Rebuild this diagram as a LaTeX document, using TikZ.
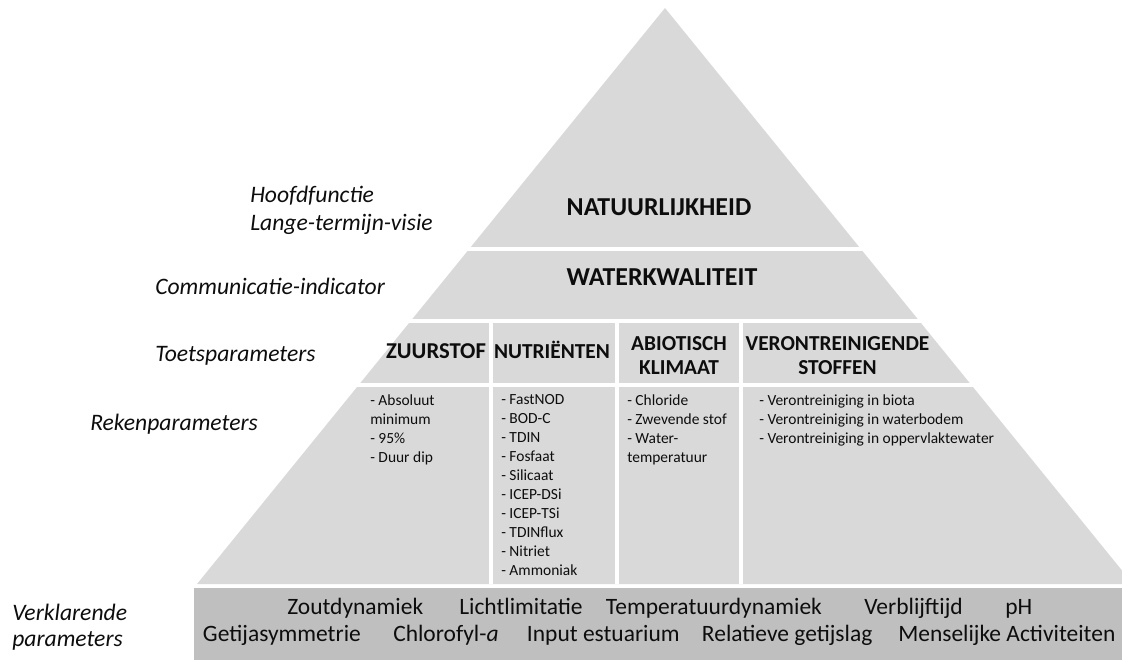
\documentclass[tikz,border=0pt]{standalone}
\usepackage{fontspec}
\setmainfont{Carlito}
\definecolor{tier}{HTML}{D9D9D9}
\definecolor{band}{HTML}{BFBFBF}
\definecolor{ink}{HTML}{0D0D0D}
\begin{document}
\begin{tikzpicture}[x=0.75pt,y=-0.75pt,
  every node/.style={inner sep=0pt, text=ink},
  title/.style={font=\fontsize{19.4}{23}\selectfont\bfseries},
  header/.style={font=\fontsize{16}{18.5}\selectfont\bfseries, align=center},
  list/.style={font=\fontsize{11.6}{14.25}\selectfont, align=left, anchor=north west},
  levellabel/.style={font=\fontsize{17.7}{21.2}\selectfont\itshape, align=left, anchor=west},
  factor/.style={font=\fontsize{17.6}{19.7}\selectfont, anchor=mid west},
  gap/.style={draw=white, line width=3pt}]
\useasboundingbox (0,0) rectangle (1122,660);
\clip (0,0) rectangle (1122,660);

% pyramid body
\fill[tier] (665,8) -- (1133,584) -- (197,584) -- cycle;
% white gaps between the tiers
\draw[gap] (380,249) -- (950,249);
\draw[gap] (300,321) -- (1030,321);
\draw[gap] (250,385) -- (1080,385);
% white gaps between the columns
\draw[gap] (491,321) -- (491,584);
\draw[gap] (617,321) -- (617,584);
\draw[gap] (741,321) -- (741,584);

% explanatory band below the pyramid
\fill[band] (194,588) rectangle (1122,660);

% tier titles
\node[title] (natuur) at (659,207) {NATUURLIJKHEID};
\node[title] (water) at (662,277.5) {WATERKWALITEIT};

% assessment parameters
\node[header, anchor=base, font=\fontsize{17}{18.5}\selectfont\bfseries] (zuurstof) at (436,358) {ZUURSTOF};
\node[header, anchor=base] (nutrient) at (552,358) {NUTRIËNTEN};
\node[header] (abiotisch) at (679,355.5) {ABIOTISCH\\KLIMAAT};
\node[header] (veront) at (837.5,355.5) {VERONTREINIGENDE\\STOFFEN};

% calculation parameters
\node[list] (zlist) at (370,394) {- Absoluut\\minimum\\- 95\%\\- Duur dip};
\node[list] (nlist) at (501,394) {- FastNOD\\- BOD-C\\- TDIN\\- Fosfaat\\- Silicaat\\- ICEP-DSi\\- ICEP-TSi\\- TDINflux\\- Nitriet\\- Ammoniak};
\node[list] (alist) at (627,394) {- Chloride\\- Zwevende stof\\- Water-\\temperatuur};
\node[list] (vlist) at (759,394) {- Verontreiniging in biota\\- Verontreiniging in waterbodem\\- Verontreiniging in oppervlaktewater};

% level labels on the left
\node[levellabel] (hoofd) at (250,210.5) {Hoofdfunctie\\Lange-termijn-visie};
\node[levellabel] (comm) at (155,286) {Communicatie-indicator};
\node[levellabel] (toets) at (155,356) {Toetsparameters};
\node[levellabel] (reken) at (90,424) {Rekenparameters};
\node[levellabel, font=\fontsize{17.7}{19.7}\selectfont\itshape] (verkl) at (12,627.5) {Verklarende\\parameters};

% explanatory parameters, first row
\node[factor] (zout) at (287,611.7) {Zoutdynamiek};
\node[factor] (licht) at (459,611.7) {Lichtlimitatie};
\node[factor] (temp) at (605.7,611.7) {Temperatuurdynamiek};
\node[factor] (verbl) at (864,611.7) {Verblijftijd};
\node[factor] (ph) at (1005,611.7) {pH};
% explanatory parameters, second row
\node[factor] (getij) at (202.7,638) {Getijasymmetrie};
\node[factor] (chl) at (393,638) {Chlorofyl-\textit{a}};
\node[factor] (input) at (526.7,638) {Input estuarium};
\node[factor] (relat) at (701.7,638) {Relatieve getijslag};
\node[factor] (mens) at (898,638) {Menselijke Activiteiten};
\end{tikzpicture}
\end{document}
